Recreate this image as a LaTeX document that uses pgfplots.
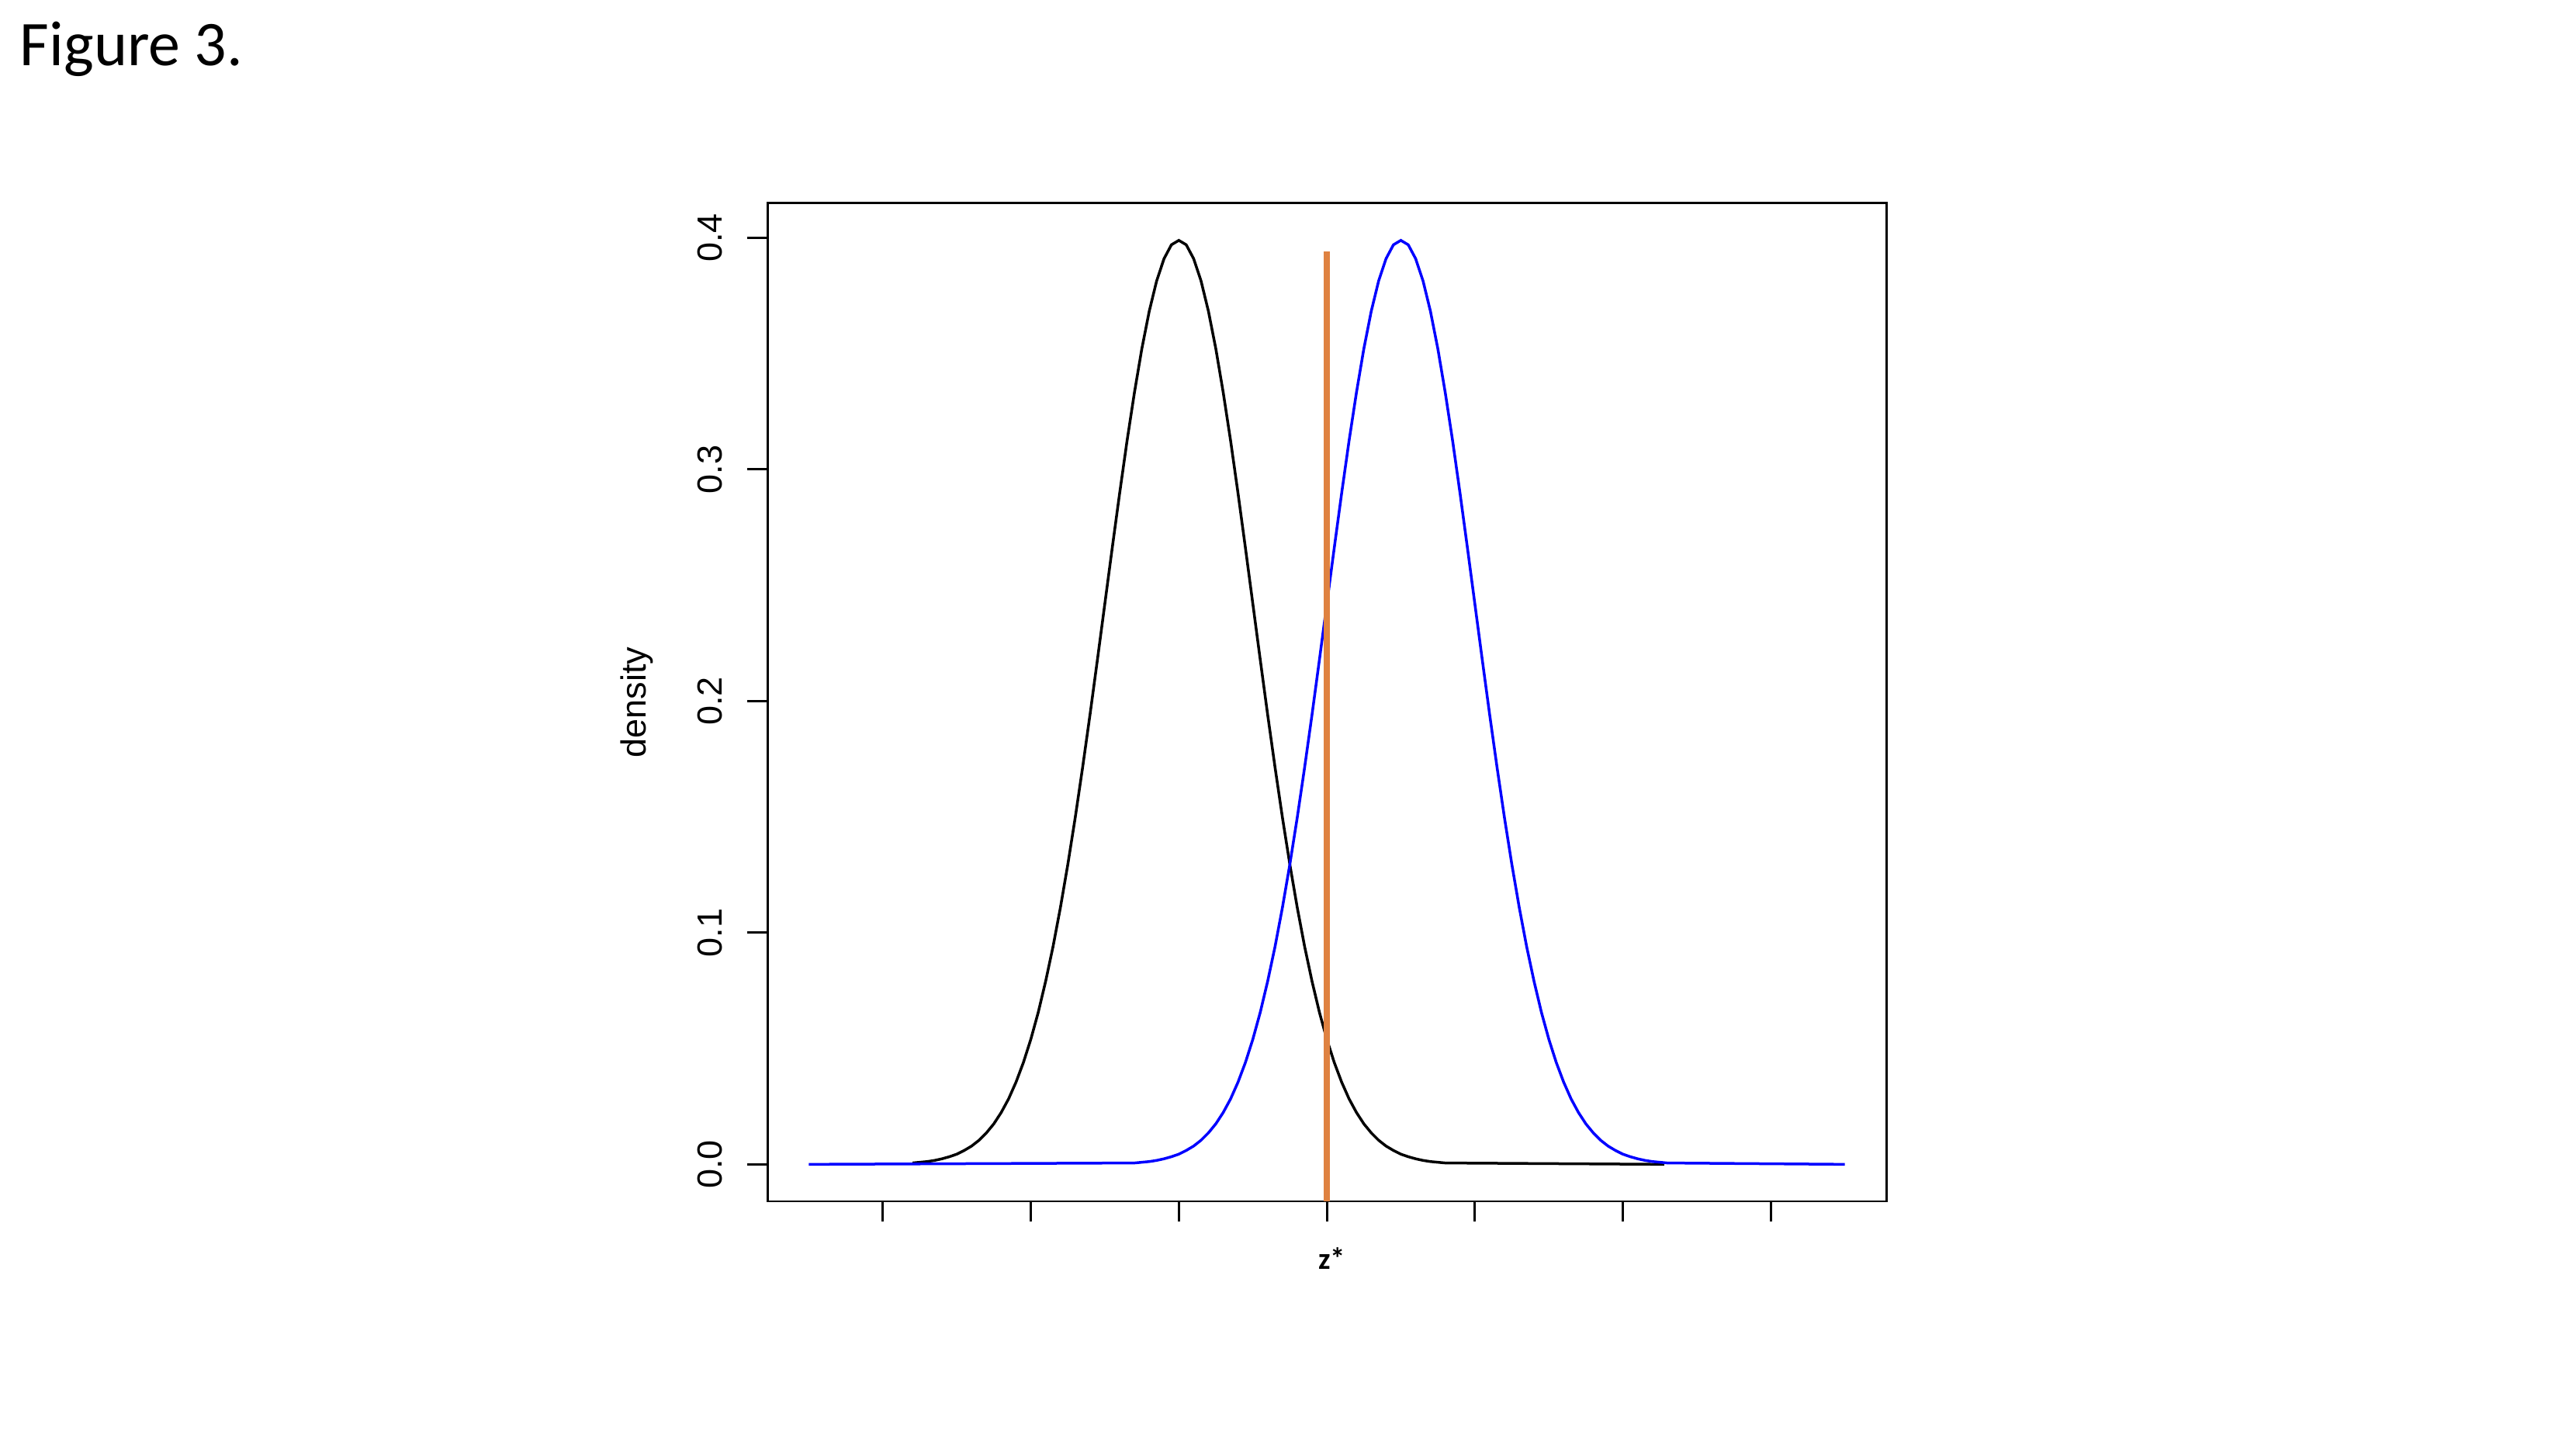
\documentclass[border=0pt]{standalone}
\usepackage{fontspec}
\usepackage{pgfplots}
\pgfplotsset{compat=1.18}
\setmainfont{Liberation Sans}
\newfontfamily\calfont{Carlito}
\definecolor{rblue}{RGB}{0,0,255}
\definecolor{zorange}{RGB}{223,130,65}

\begin{document}
\begin{tikzpicture}
\path[use as bounding box] (0,0) rectangle (332bp,186.2bp);
\node[anchor=base west, inner sep=0pt, font=\calfont\fontsize{8.2bp}{9bp}\selectfont] at (2.4bp,177.7bp) {Figure 3.};
\begin{axis}[
    at={(98.9bp,31.4bp)}, anchor=south west,
    width=144.2bp, height=128.6bp, scale only axis,
    xmin=-5.56, xmax=9.56,
    ymin=-0.01596, ymax=0.4149,
    xtick={-4,-2,0,2,4,6,8}, xticklabels={},
    ytick={0,0.1,0.2,0.3,0.4},
    yticklabels={0.0,0.1,0.2,0.3,0.4},
    xtick pos=bottom, ytick pos=left,
    tick align=outside, major tick length=2.6bp,
    tick style={line width=0.3bp, black},
    axis line style={line width=0.3bp},
    yticklabel style={xshift=-3.3bp, rotate=90, anchor=base, font=\fontsize{4.5bp}{5bp}\selectfont, inner sep=0pt},
    clip=false,
]
% standard normal, mean 0
\addplot[black, line width=0.35bp] coordinates {
(-3.6,0.0006) (-3.5,0.0009) (-3.4,0.0012) (-3.3,0.0017) (-3.2,0.0024) (-3.1,0.0033)
(-3.0,0.0044) (-2.9,0.0060) (-2.8,0.0079) (-2.7,0.0104) (-2.6,0.0136) (-2.5,0.0175)
(-2.4,0.0224) (-2.3,0.0283) (-2.2,0.0355) (-2.1,0.0440) (-2.0,0.0540) (-1.9,0.0656)
(-1.8,0.0790) (-1.7,0.0940) (-1.6,0.1109) (-1.5,0.1295) (-1.4,0.1497) (-1.3,0.1714)
(-1.2,0.1942) (-1.1,0.2179) (-1.0,0.2420) (-0.9,0.2661) (-0.8,0.2897) (-0.7,0.3123)
(-0.6,0.3332) (-0.5,0.3521) (-0.4,0.3683) (-0.3,0.3814) (-0.2,0.3910) (-0.1,0.3970)
(0.0,0.3989)
(0.1,0.3970) (0.2,0.3910) (0.3,0.3814) (0.4,0.3683) (0.5,0.3521) (0.6,0.3332)
(0.7,0.3123) (0.8,0.2897) (0.9,0.2661) (1.0,0.2420) (1.1,0.2179) (1.2,0.1942)
(1.3,0.1714) (1.4,0.1497) (1.5,0.1295) (1.6,0.1109) (1.7,0.0940) (1.8,0.0790)
(1.9,0.0656) (2.0,0.0540) (2.1,0.0440) (2.2,0.0355) (2.3,0.0283) (2.4,0.0224)
(2.5,0.0175) (2.6,0.0136) (2.7,0.0104) (2.8,0.0079) (2.9,0.0060) (3.0,0.0044)
(3.1,0.0033) (3.2,0.0024) (3.3,0.0017) (3.4,0.0012) (3.5,0.0009) (3.6,0.0006)
(6.56,0)
};
% normal, mean 3
\addplot[rblue, line width=0.35bp] coordinates {
(-5,0)
(-0.6,0.0006) (-0.5,0.0009) (-0.4,0.0012) (-0.3,0.0017) (-0.2,0.0024) (-0.1,0.0033)
(0.0,0.0044) (0.1,0.0060) (0.2,0.0079) (0.3,0.0104) (0.4,0.0136) (0.5,0.0175)
(0.6,0.0224) (0.7,0.0283) (0.8,0.0355) (0.9,0.0440) (1.0,0.0540) (1.1,0.0656)
(1.2,0.0790) (1.3,0.0940) (1.4,0.1109) (1.5,0.1295) (1.6,0.1497) (1.7,0.1714)
(1.8,0.1942) (1.9,0.2179) (2.0,0.2420) (2.1,0.2661) (2.2,0.2897) (2.3,0.3123)
(2.4,0.3332) (2.5,0.3521) (2.6,0.3683) (2.7,0.3814) (2.8,0.3910) (2.9,0.3970)
(3.0,0.3989)
(3.1,0.3970) (3.2,0.3910) (3.3,0.3814) (3.4,0.3683) (3.5,0.3521) (3.6,0.3332)
(3.7,0.3123) (3.8,0.2897) (3.9,0.2661) (4.0,0.2420) (4.1,0.2179) (4.2,0.1942)
(4.3,0.1714) (4.4,0.1497) (4.5,0.1295) (4.6,0.1109) (4.7,0.0940) (4.8,0.0790)
(4.9,0.0656) (5.0,0.0540) (5.1,0.0440) (5.2,0.0355) (5.3,0.0283) (5.4,0.0224)
(5.5,0.0175) (5.6,0.0136) (5.7,0.0104) (5.8,0.0079) (5.9,0.0060) (6.0,0.0044)
(6.1,0.0033) (6.2,0.0024) (6.3,0.0017) (6.4,0.0012) (6.5,0.0009) (6.6,0.0006)
(9,0)
};
% threshold z*
\addplot[zorange, line width=0.8bp] coordinates {(2,-0.01596) (2,0.394)};
\node[rotate=90, anchor=base, inner sep=0pt, font=\fontsize{4.5bp}{5bp}\selectfont] at (axis description cs:-0.1082,0.5) {density};
\node[anchor=base, inner sep=0pt, font=\calfont\bfseries\fontsize{3.9bp}{4.3bp}\selectfont] at (axis description cs:0.5047,-0.0677) {z*};
\end{axis}
\end{tikzpicture}
\end{document}
